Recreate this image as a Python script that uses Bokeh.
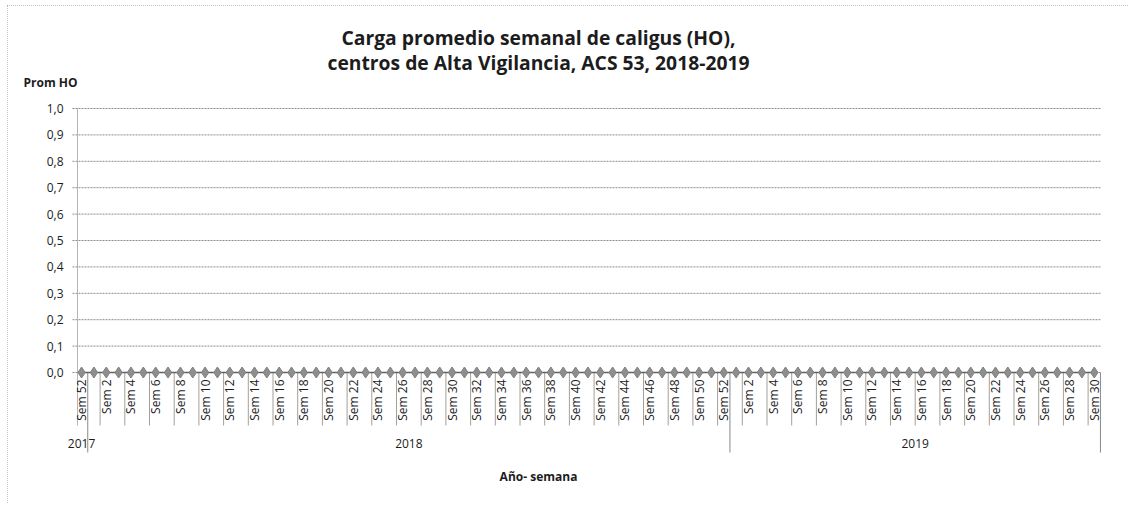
import math
from bokeh.plotting import figure
from bokeh.models import Range1d
from bokeh.core.properties import value
from bokeh.embed import file_html
from bokeh.resources import INLINE

# ---------------- data ----------------
year_labels = ["2017", "2018", "2019"]
weeks_2017 = [52]
weeks_2018 = list(range(1, 53))
weeks_2019 = list(range(1, 31))
prom_2017 = [0.0]
prom_2018 = [0.0, 0.0, 0.0, 0.0, 0.0, 0.0, 0.0, 0.0, 0.0, 0.0, 0.0, 0.0, 0.0,
             0.0, 0.0, 0.0, 0.0, 0.0, 0.0, 0.0, 0.0, 0.0, 0.0, 0.0, 0.0, 0.0,
             0.0, 0.0, 0.0, 0.0, 0.0, 0.0, 0.0, 0.0, 0.0, 0.0, 0.0, 0.0, 0.0,
             0.0, 0.0, 0.0, 0.0, 0.0, 0.0, 0.0, 0.0, 0.0, 0.0, 0.0, 0.0, 0.0]
prom_2019 = [0.0, 0.0, 0.0, 0.0, 0.0, 0.0, 0.0, 0.0, 0.0, 0.0,
             0.0, 0.0, 0.0, 0.0, 0.0, 0.0, 0.0, 0.0, 0.0, 0.0,
             0.0, 0.0, 0.0, 0.0, 0.0, 0.0, 0.0, 0.0, 0.0, 0.0]
y_ticks = [0.0, 0.1, 0.2, 0.3, 0.4, 0.5, 0.6, 0.7, 0.8, 0.9, 1.0]
y_tick_labels = ["0,0", "0,1", "0,2", "0,3", "0,4", "0,5", "0,6", "0,7", "0,8", "0,9", "1,0"]
title_lines = ["Carga promedio semanal de caligus (HO),",
               "centros de Alta Vigilancia, ACS 53, 2018-2019"]
y_title = "Prom HO"
x_title = "Año- semana"

# ---------------- derived structures ----------------
groups = [weeks_2017, weeks_2018, weeks_2019]
values_all = prom_2017 + prom_2018 + prom_2019
weeks_all = weeks_2017 + weeks_2018 + weeks_2019
n = len(values_all)
xs = list(range(n))

lab_x = [i for i in xs if i % 2 == 0]
lab_t = ["Sem %d" % weeks_all[i] for i in lab_x]

bounds = []
centres = []
start = 0
for g in groups:
    end = start + len(g)
    bounds.append(end - 0.5)
    centres.append((start + end - 1) / 2.0)
    start = end

short_sep = [i + 0.5 for i in xs if i % 2 == 1 and (i + 0.5) not in bounds]

# ---------------- layout constants (pixels -> data offsets) ----------------
FONT = "Open Sans"
TXT = "#1c1c1c"
UNIT = 264.0     # px per y unit
XPX = 12.35      # px per category
AXIS_X = -0.33   # category position of the value axis
X_END = n - 0.5
W, H = 1121, 498
LEFT_PX, RIGHT_PX = 70, W - 70 - 1023   # space left / right of the plotting band
TOP_PX, BOT_PX = 103, 131               # space above 1.0 / below 0.0


def dx(px):
    return px / XPX


def dy(px):
    return px / UNIT


p = figure(width=W, height=H, output_backend="svg", toolbar_location=None,
           x_range=Range1d(AXIS_X - dx(LEFT_PX), AXIS_X + dx(W - LEFT_PX)),
           y_range=Range1d(-dy(BOT_PX), 1.0 + dy(TOP_PX)),
           x_axis_type=None, y_axis_type=None,
           min_border=0, title=None)
p.outline_line_color = None
p.background_fill_color = "white"
p.border_fill_color = "white"
p.xgrid.visible = False
p.ygrid.visible = False
p.styles = {"outline": "1px dotted #8a8a8a", "outline-offset": "-1px",
            "margin-left": "7px", "margin-top": "5px"}

# horizontal gridlines with outward tick stubs
p.segment(x0=[AXIS_X - dx(5)] * len(y_ticks), y0=y_ticks,
          x1=[X_END] * len(y_ticks), y1=y_ticks,
          line_color="#8a8a8a", line_width=1, line_dash="2 1")

# y tick labels
p.text(x=[AXIS_X - dx(14)] * len(y_ticks), y=y_ticks, text=y_tick_labels,
       text_align="right", text_baseline="middle", text_font=value(FONT),
       text_font_size="12px", text_color=TXT)

# value axis line (stops below the category labels)
p.segment(x0=[AXIS_X], y0=[1.0], x1=[AXIS_X], y1=[-dy(53)],
          line_color="#b5b5b5", line_width=1)

# category separators below the zero line
p.segment(x0=short_sep, y0=[0.0] * len(short_sep), x1=short_sep,
          y1=[-dy(53)] * len(short_sep), line_color="#a0a0a0", line_width=1)
p.segment(x0=bounds, y0=[0.0] * len(bounds), x1=bounds,
          y1=[-dy(80)] * len(bounds), line_color="#8a8a8a", line_width=1)

# data
p.line(xs, values_all, line_color="#5f5f5f", line_width=1.6)
p.scatter(xs, values_all, marker="diamond", size=11, fill_color="#8e8e8e",
          line_color="#808080", line_width=1)

# week labels
p.text(x=lab_x, y=[-dy(7)] * len(lab_x), text=lab_t, angle=math.pi / 2,
       text_align="right", text_baseline="middle", text_font=value(FONT),
       text_font_size="12px", text_color=TXT)

# year labels
p.text(x=centres, y=[-dy(71)] * len(centres), text=year_labels,
       text_align="center", text_baseline="middle", text_font=value(FONT),
       text_font_size="12px", text_color=TXT)

# x axis title
TITLE_X = AXIS_X + dx(461)
p.text(x=[TITLE_X], y=[-dy(104)], text=[x_title], text_align="center",
       text_baseline="middle", text_font=value(FONT), text_font_size="12px",
       text_font_style="bold", text_color=TXT)

# y axis title
p.text(x=[AXIS_X - dx(54)], y=[1.0 + dy(26)], text=[y_title], text_align="left",
       text_baseline="middle", text_font=value(FONT), text_font_size="12px",
       text_font_style="bold", text_color=TXT)

# chart title (two lines)
p.text(x=[TITLE_X, TITLE_X], y=[1.0 + dy(71), 1.0 + dy(46)], text=title_lines,
       text_align="center", text_baseline="middle", text_font=value(FONT),
       text_font_size="19.3px", text_font_style="bold", text_color=TXT)

open("out.html", "w").write(file_html(p, INLINE))
